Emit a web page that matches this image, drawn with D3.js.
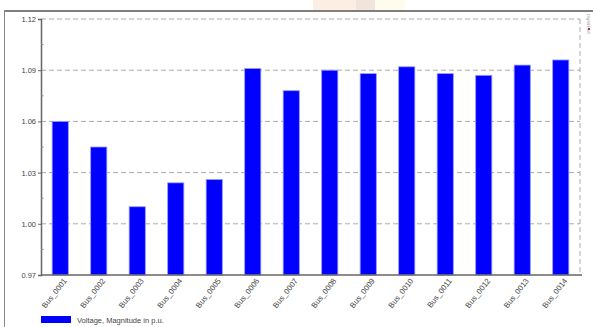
<!DOCTYPE html>
<html><head><meta charset="utf-8">
<script src="https://cdn.jsdelivr.net/npm/d3@7"></script>
<style>body{margin:0;background:#fff;}svg{display:block;font-family:"Liberation Sans",Arial,sans-serif;}</style>
</head><body>
<script>
const categories = ["Bus_0001","Bus_0002","Bus_0003","Bus_0004","Bus_0005","Bus_0006","Bus_0007","Bus_0008","Bus_0009","Bus_0010","Bus_0011","Bus_0012","Bus_0013","Bus_0014"];
const voltages = [1.060,1.045,1.010,1.024,1.026,1.091,1.078,1.090,1.088,1.092,1.088,1.087,1.093,1.096];
const yTicks = [0.97,1.00,1.03,1.06,1.09,1.12];
const yMinor = [0.985,1.015,1.045,1.075,1.105];
const legendLabel = "Voltage, Magnitude in p.u.";

const W=593,H=327;
const svg=d3.select("body").append("svg").attr("width",W).attr("height",H);

// faint header watermark
svg.append("rect").attr("x",313).attr("y",0).attr("width",43).attr("height",10).attr("fill","#fdeee4");
svg.append("rect").attr("x",356).attr("y",0).attr("width",19).attr("height",10).attr("fill","#f0e4dd");
svg.append("rect").attr("x",375).attr("y",0).attr("width",30).attr("height",10).attr("fill","#fffcee");

// outer frame
svg.append("line").attr("x1",4).attr("x2",W).attr("y1",11).attr("y2",11).attr("stroke","#555").attr("stroke-width",1.5);
svg.append("line").attr("x1",4.5).attr("x2",4.5).attr("y1",11).attr("y2",H).attr("stroke","#888").attr("stroke-width",1);

const m={l:41,r:580,t:19,b:275};
const x=d3.scaleBand().domain(categories).range([m.l,m.r]).paddingInner(0.58).paddingOuter(0.29);
const y=d3.scaleLinear().domain([0.97,1.12]).range([m.b,m.t]);

// gridlines
svg.append("g").selectAll("line").data(yTicks.filter(d=>d>0.97)).join("line")
  .attr("x1",m.l).attr("x2",m.r).attr("y1",d=>y(d)).attr("y2",d=>y(d))
  .attr("stroke","#aaa").attr("stroke-width",1).attr("stroke-dasharray","5,3");
svg.append("line").attr("x1",m.r).attr("x2",m.r).attr("y1",m.t).attr("y2",m.b)
  .attr("stroke","#aaa").attr("stroke-width",1).attr("stroke-dasharray","5,3");

// bars
svg.append("g").selectAll("rect").data(voltages).join("rect")
  .attr("x",(d,i)=>x(categories[i])).attr("width",x.bandwidth())
  .attr("y",d=>y(d)).attr("height",d=>y(0.97)-y(d))
  .attr("fill","#0000ff").attr("stroke","#9a9aff").attr("stroke-width",0.8);

// y axis
const ya=svg.append("g").attr("transform",`translate(${m.l},0)`)
  .call(d3.axisLeft(y).tickValues(yTicks).tickFormat(d3.format(".2f")).tickSize(3));
ya.select(".domain").attr("stroke","#666").attr("stroke-width",1.5);
ya.selectAll(".tick line").attr("stroke","#666");
ya.selectAll("text").attr("font-size",7.5).attr("fill","#444").attr("x",-5);
svg.append("g").selectAll("line").data(yMinor).join("line")
  .attr("x1",m.l).attr("x2",m.l+2.5).attr("y1",d=>y(d)).attr("y2",d=>y(d)).attr("stroke","#888");

// x axis
const xa=svg.append("g").attr("transform",`translate(0,${m.b})`)
  .call(d3.axisBottom(x).tickSize(0));
xa.select(".domain").attr("d",`M${m.l},0H582`).attr("stroke","#666").attr("stroke-width",1.5);
xa.selectAll("text").attr("font-size",7.8).attr("fill","#444")
  .attr("text-anchor","end").attr("dy",0).attr("y",0)
  .attr("transform","translate(7,6) rotate(-52)");

// legend
svg.append("rect").attr("x",41).attr("y",316).attr("width",30).attr("height",7).attr("fill","#0000ff");
svg.append("text").attr("x",77).attr("y",322.5).attr("font-size",7.5).attr("fill","#444").text(legendLabel);

// tiny corner label
svg.append("text").attr("transform","translate(587,14) rotate(90)").attr("font-size",4).attr("fill","#999").text("DIgSILENT");
svg.append("rect").attr("x",588).attr("y",28).attr("width",2).attr("height",2).attr("fill","#a33");
</script>
</body></html>
